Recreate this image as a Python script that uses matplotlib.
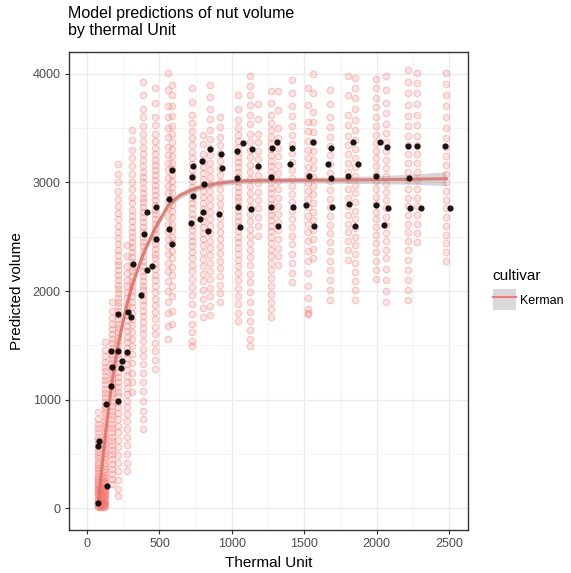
import matplotlib
matplotlib.use("Agg")
import matplotlib.pyplot as plt
from matplotlib.patches import Patch
from matplotlib.lines import Line2D

plt.rcParams['font.family'] = ['Liberation Sans', 'DejaVu Sans']

PINK = '#F8766D'

# model predictions, one column of values per thermal unit
col_tu = [78, 92, 104, 116, 124, 170, 216, 274, 308, 388, 469, 559, 584, 722, 798,
          848, 917, 1043, 1124, 1181, 1271, 1317, 1414, 1524, 1559, 1674, 1800,
          1850, 1998, 2067, 2216, 2281, 2481]
col_vol = [
    [15, 25, 35, 45, 60, 75, 90, 110, 130, 145, 160, 175, 190, 205, 220, 240, 260, 280, 300, 325, 350, 375, 400, 430, 460, 490, 520, 555, 590, 625, 660, 700, 740, 780, 820, 890],
    [10, 20, 30, 40, 55, 70, 90, 110, 140, 170, 200],
    [10, 20, 30, 40, 55, 70, 90, 110, 140, 180, 230, 300],
    [10, 20, 35, 50, 70, 95, 120, 150, 190, 240],
    [20, 45, 70, 100, 120, 140, 160, 180, 205, 230, 255, 280, 305, 330, 360, 390, 420, 450, 480, 510, 540, 570, 605, 640, 670, 700, 735, 770, 805, 840, 875, 910, 945, 980, 1020, 1060, 1100, 1140, 1180, 1220, 1260, 1300, 1350, 1400, 1460, 1530],
    [220, 270, 320, 365, 410, 455, 500, 540, 580, 620, 660, 700, 740, 780, 820, 860, 900, 940, 980, 1020, 1060, 1095, 1130, 1165, 1200, 1235, 1270, 1305, 1340, 1375, 1410, 1445, 1480, 1520, 1560, 1600, 1650, 1700, 1750, 1820, 1900],
    [110, 180, 260, 340, 420, 490, 560, 630, 700, 760, 820, 875, 930, 980, 1030, 1075, 1120, 1165, 1210, 1255, 1300, 1340, 1380, 1420, 1460, 1500, 1540, 1580, 1620, 1660, 1700, 1740, 1780, 1820, 1860, 1900, 1940, 1980, 2020, 2060, 2100, 2145, 2190, 2235, 2280, 2330, 2380, 2435, 2490, 2545, 2600, 2660, 2720, 2785, 2850, 2920, 3000, 3080, 3165],
    [340, 420, 500, 580, 660, 730, 800, 865, 930, 990, 1050, 1105, 1160, 1215, 1270, 1325, 1380, 1430, 1480, 1530, 1580, 1630, 1680, 1730, 1780, 1830, 1880, 1935, 1990, 2045, 2100, 2165, 2230, 2320, 2420],
    [1070, 1160, 1250, 1335, 1420, 1490, 1560, 1625, 1690, 1745, 1800, 1850, 1900, 1950, 2000, 2045, 2090, 2135, 2180, 2225, 2270, 2315, 2360, 2405, 2450, 2495, 2540, 2590, 2640, 2695, 2750, 2810, 2870, 2935, 3000, 3075, 3150, 3225, 3300, 3390, 3480],
    [730, 820, 900, 990, 1080, 1165, 1250, 1325, 1400, 1470, 1540, 1600, 1660, 1715, 1770, 1820, 1870, 1915, 1960, 2005, 2050, 2095, 2140, 2185, 2230, 2275, 2320, 2365, 2410, 2455, 2500, 2545, 2590, 2635, 2680, 2725, 2770, 2815, 2860, 2905, 2950, 3000, 3050, 3100, 3150, 3205, 3260, 3320, 3380, 3450, 3520, 3600, 3680, 3800, 3920],
    [1280, 1365, 1450, 1525, 1600, 1670, 1740, 1805, 1870, 1930, 1990, 2045, 2100, 2150, 2200, 2250, 2300, 2345, 2390, 2435, 2480, 2525, 2570, 2615, 2660, 2705, 2750, 2795, 2840, 2885, 2930, 2975, 3020, 3065, 3110, 3160, 3210, 3265, 3320, 3385, 3450, 3525, 3600, 3730, 3870],
    [1560, 1680, 1800, 1900, 2000, 2090, 2180, 2260, 2340, 2410, 2480, 2550, 2620, 2690, 2760, 2830, 2900, 2970, 3040, 3110, 3180, 3255, 3330, 3415, 3500, 3600, 3700, 3850, 4010],
    [1700, 1820, 1950, 2050, 2150, 2225, 2300, 2370, 2440, 2500, 2560, 2620, 2680, 2735, 2790, 2845, 2900, 2955, 3010, 3065, 3120, 3180, 3240, 3305, 3370, 3445, 3520, 3610, 3700, 3800, 3900],
    [1490, 1540, 1620, 1700, 1790, 1880, 1960, 2040, 2110, 2180, 2240, 2300, 2355, 2410, 2460, 2510, 2560, 2610, 2660, 2710, 2760, 2810, 2860, 2910, 2960, 3010, 3060, 3110, 3165, 3220, 3280, 3340, 3405, 3470, 3545, 3620, 3740, 3870],
    [1760, 1845, 1930, 2010, 2090, 2160, 2230, 2295, 2360, 2420, 2480, 2535, 2590, 2645, 2700, 2755, 2810, 2865, 2920, 2975, 3030, 3085, 3140, 3200, 3260, 3350, 3440],
    [1780, 1865, 1950, 2030, 2110, 2185, 2260, 2330, 2400, 2465, 2530, 2595, 2660, 2725, 2790, 2855, 2920, 2985, 3050, 3115, 3180, 3250, 3320, 3400, 3480, 3580, 3680, 3790, 3900],
    [1900, 1980, 2060, 2135, 2210, 2280, 2350, 2415, 2480, 2545, 2610, 2675, 2740, 2805, 2870, 2935, 3000, 3065, 3130, 3200, 3270, 3345, 3420, 3510, 3600],
    [1720, 1800, 1880, 1955, 2030, 2100, 2170, 2230, 2290, 2345, 2400, 2450, 2500, 2550, 2600, 2645, 2690, 2735, 2780, 2825, 2870, 2915, 2960, 3005, 3050, 3095, 3140, 3185, 3230, 3280, 3330, 3385, 3440, 3505, 3570, 3680, 3800],
    [1490, 1560, 1640, 1720, 1810, 1900, 1990, 2080, 2160, 2240, 2310, 2380, 2445, 2510, 2575, 2640, 2705, 2770, 2835, 2900, 2965, 3030, 3095, 3160, 3230, 3300, 3375, 3450, 3535, 3620, 3710, 3800, 3890, 3980],
    [2510, 2595, 2680, 2760, 2840, 2915, 2990, 3065, 3140, 3215, 3290, 3370, 3450, 3580, 3720],
    [1760, 1830, 1900, 1975, 2050, 2120, 2190, 2255, 2320, 2380, 2440, 2495, 2550, 2600, 2650, 2700, 2750, 2800, 2850, 2900, 2950, 3000, 3050, 3100, 3150, 3200, 3250, 3305, 3360, 3420, 3480, 3550, 3620, 3730, 3840],
    [2240, 2320, 2400, 2480, 2560, 2635, 2710, 2785, 2860, 2935, 3010, 3085, 3160, 3240, 3320, 3410, 3500, 3670, 3840],
    [2080, 2170, 2260, 2345, 2430, 2510, 2590, 2665, 2740, 2815, 2890, 2965, 3040, 3115, 3190, 3270, 3350, 3435, 3520, 3610, 3700, 3820, 3940],
    [1790, 1800, 1830, 1940, 2050, 2165, 2280, 2370, 2460, 2540, 2620, 2695, 2770, 2845, 2920, 2995, 3070, 3145, 3220, 3300, 3380, 3470, 3560, 3715, 3870],
    [2300, 2390, 2480, 2565, 2650, 2730, 2810, 2890, 2970, 3050, 3130, 3210, 3290, 3375, 3460, 3555, 3650, 3820, 4000],
    [1920, 2010, 2100, 2190, 2280, 2365, 2450, 2530, 2610, 2690, 2770, 2850, 2930, 3010, 3090, 3170, 3250, 3335, 3420, 3510, 3600, 3720, 3850],
    [2290, 2375, 2460, 2540, 2620, 2700, 2780, 2860, 2940, 3020, 3100, 3180, 3260, 3345, 3430, 3525, 3620, 3800, 3980],
    [1920, 2005, 2090, 2175, 2260, 2340, 2420, 2500, 2580, 2660, 2740, 2820, 2900, 2980, 3060, 3140, 3220, 3305, 3390, 3480, 3570, 3675, 3780, 3870, 3960],
    [2110, 2195, 2280, 2360, 2440, 2515, 2590, 2660, 2730, 2800, 2870, 2940, 3010, 3080, 3150, 3220, 3290, 3365, 3440, 3520, 3600, 3690, 3780, 3865, 3950],
    [1900, 2000, 2100, 2200, 2300, 2380, 2460, 2535, 2610, 2685, 2760, 2835, 2910, 2985, 3060, 3135, 3210, 3290, 3370, 3455, 3540, 3635, 3730, 3855, 3980],
    [1920, 2010, 2100, 2195, 2290, 2375, 2460, 2540, 2620, 2700, 2780, 2860, 2940, 3020, 3100, 3180, 3260, 3345, 3430, 3520, 3610, 3715, 3820, 3925, 4030],
    [2450, 2535, 2620, 2700, 2780, 2860, 2940, 3020, 3100, 3180, 3260, 3345, 3430, 3525, 3620, 3720, 3820, 3915, 4010],
    [2280, 2360, 2440, 2520, 2600, 2680, 2760, 2840, 2920, 3000, 3080, 3160, 3240, 3325, 3410, 3505, 3600, 3700, 3800, 3905, 4010],
]

# observed volumes (black points)
obs_tu = [78, 78, 83, 129, 211, 136, 166, 211, 274, 244, 234, 170, 163, 216, 301, 285,
          372, 315, 450, 414, 395, 474, 414, 474, 566, 566, 589, 589,
          729, 722, 733, 715, 795, 809, 798, 779, 832, 848, 922, 929, 912,
          1074, 1037, 1037, 1039, 1055, 1136, 1181, 1129,
          1313, 1276, 1271, 1271, 1317, 1398, 1416, 1421, 1559, 1531, 1512, 1566,
          1681, 1662, 1681, 1692, 1834, 1874, 1800, 1805, 1850,
          2021, 2074, 1998, 1998, 2078, 2050, 2216, 2281, 2223, 2232, 2308, 2474, 2503]
obs_vol = [49, 569, 621, 957, 988, 202, 1447, 1447, 1440, 1355, 1294, 1303, 1122, 1792, 1761, 1807,
           1966, 2250, 2229, 2190, 2526, 2480, 2731, 2771, 2847, 2572, 2434, 3116,
           3153, 3046, 2872, 2624, 3198, 2984, 2725, 2663, 2548, 3306, 3260, 3128, 2709,
           3358, 3291, 3037, 2777, 2587, 3306, 3153, 2755,
           3373, 3312, 3046, 2777, 2603, 3168, 3321, 2771, 3373, 3055, 2795, 2603,
           3321, 3168, 3037, 2771, 3373, 3168, 3055, 2801, 2603,
           3373, 3330, 3055, 2792, 2764, 2608, 3336, 3336, 3037, 2767, 2767, 3336, 2767]

# smooth fit and its standard error band
fit_tu = [78, 100, 130, 170, 216, 270, 310, 390, 470, 560, 640, 720, 800, 920,
          1050, 1200, 1500, 1800, 2100, 2300, 2480]
fit_vol = [50, 350, 720, 1150, 1520, 1850, 2050, 2350, 2580, 2790, 2880, 2930, 2965, 2995,
           3012, 3018, 3020, 3022, 3026, 3030, 3034]
fit_se = [110, 90, 70, 55, 45, 40, 38, 35, 33, 32, 30, 28, 27, 26, 25, 25, 25, 30, 40, 50, 65]

fig = plt.figure(figsize=(5.71, 5.73), dpi=100)
ax = fig.add_axes([0.1208, 0.0750, 0.6988, 0.8342])

for tu, vols in zip(col_tu, col_vol):
    ax.scatter([tu] * len(vols), vols, s=22, facecolors=(0.973, 0.463, 0.427, 0.2),
               edgecolors=(0.973, 0.463, 0.427, 0.38), linewidths=0.8, zorder=2)

lo = [v - s for v, s in zip(fit_vol, fit_se)]
hi = [v + s for v, s in zip(fit_vol, fit_se)]
ax.fill_between(fit_tu, lo, hi, color='#999999', alpha=0.4, lw=0, zorder=3)
ax.plot(fit_tu, fit_vol, color='#E07068', lw=2.2, alpha=0.85, zorder=4)

ax.scatter(obs_tu, obs_vol, s=20, color='black', alpha=0.9, lw=0, zorder=5)

ax.set_xlim(-125, 2630)
ax.set_ylim(-200, 4200)
ax.set_xticks([0, 500, 1000, 1500, 2000, 2500])
ax.set_yticks([0, 1000, 2000, 3000, 4000])
ax.set_xticks([250, 750, 1250, 1750, 2250], minor=True)
ax.set_yticks([500, 1500, 2500, 3500], minor=True)
ax.grid(True, which='major', color='#EBEBEB', lw=1.0, zorder=0)
ax.grid(True, which='minor', color='#F2F2F2', lw=0.6, zorder=0)
ax.set_axisbelow(True)
ax.tick_params(which='major', length=3, color='#333333', labelsize=9, labelcolor='#4D4D4D', pad=3)
ax.tick_params(which='minor', length=0)
for sp in ax.spines.values():
    sp.set_color('#333333')
    sp.set_linewidth(1.0)

ax.set_xlabel('Thermal Unit', fontsize=11, labelpad=4)
ax.set_ylabel('Predicted volume', fontsize=11, labelpad=6)

fig.text(0.119, 0.99, 'Model predictions of nut volume\nby thermal Unit', fontsize=11.5,
         ha='left', va='top', linespacing=1.15)

key = (Patch(facecolor='#D9D9D9', edgecolor='none'), Line2D([], [], color=PINK, lw=1.5))
fig.legend([key], ['Kerman'], title='cultivar', loc='upper left',
           bbox_to_anchor=(0.843, 0.55), frameon=False, fontsize=9, title_fontsize=11,
           handlelength=1.9, handleheight=2.2, handletextpad=0.3, alignment='left')

fig.savefig('out.png', dpi=100)
